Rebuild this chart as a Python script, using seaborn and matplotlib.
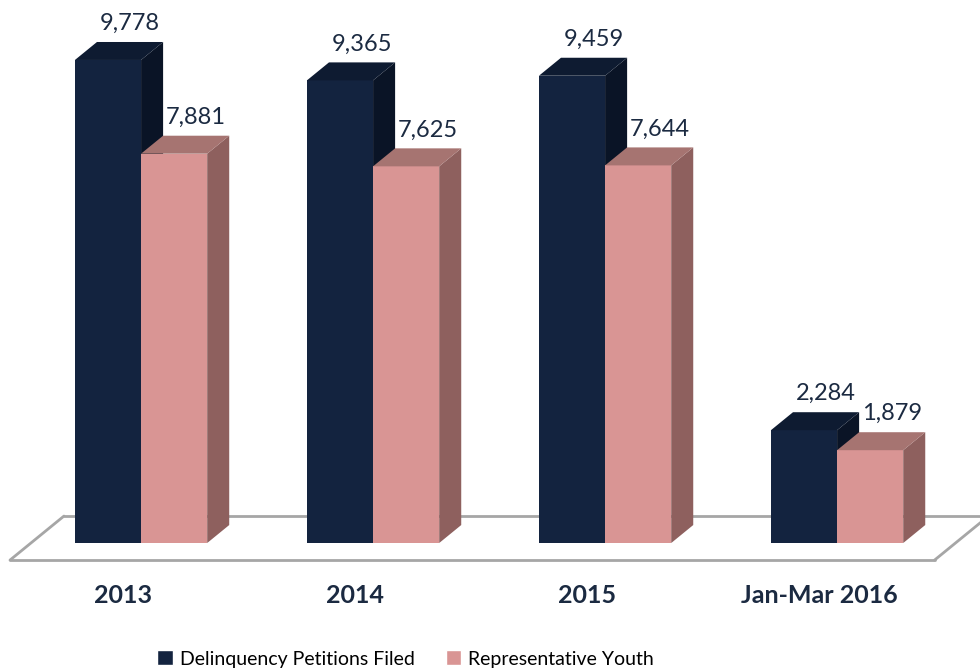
import numpy as np
import pandas as pd
import matplotlib
matplotlib.use('Agg')
import matplotlib.pyplot as plt
from matplotlib.patches import Polygon
import seaborn as sns

# data
categories = ['2013', '2014', '2015', 'Jan-Mar 2016']
series = ['Delinquency Petitions Filed', 'Representative Youth']
petitions = [9778, 9365, 9459, 2284]
youth = [7881, 7625, 7644, 1879]

# colours: front face, top face, side face
front = ['#13233F', '#D99594']
top = ['#0E1B31', '#A67471']
side = ['#0A1426', '#8E605E']
txt_col = '#1B2A41'

df = pd.DataFrame({'year': categories * 2,
                   'series': [series[0]] * len(categories) + [series[1]] * len(categories),
                   'value': petitions + youth})

sns.set_style('white')
plt.rcParams['font.family'] = ['Lato', 'DejaVu Sans']

fig = plt.figure(figsize=(9.8, 6.71), dpi=100)
ax = fig.add_axes([0, 0.1654, 1, 0.8346])

sns.barplot(data=df, x='year', y='value', hue='series', palette=front,
            saturation=1, width=0.57, ax=ax)

ax.set_xlim(-0.608, 3.616)
ax.set_ylim(-344, 10992)

# fake 3d depth (data units)
dx, dy = 0.095, 364

bars = sorted([p for p in ax.patches if p.get_height() > 0], key=lambda p: p.get_x())
for k, b in enumerate(bars):
    s = k % 2
    x0, w, h = b.get_x(), b.get_width(), b.get_height()
    x1 = x0 + w
    z = 3 + k * 0.1
    b.set_zorder(z)
    b.set_edgecolor('none')
    ax.add_patch(Polygon([(x1, 0), (x1 + dx, dy), (x1 + dx, h + dy), (x1, h)],
                         closed=True, fc=side[s], ec='none', zorder=z))
    ax.add_patch(Polygon([(x0, h), (x0 + dx, h + dy), (x1 + dx, h + dy), (x1, h)],
                         closed=True, fc=top[s], ec='none', zorder=z))
    ax.text(x0 + w / 2 + dx * 1.0, h + dy + 160, f'{h:,.0f}', ha='center', va='bottom',
            fontsize=17, color=txt_col, zorder=10)

# floor
fl_x = (-0.565, 3.42)
fy0, fy1 = -0.95 * dy, 1.5 * dy
fdx = 2.45 * dx
fl_kw = dict(color='#A6A6A6', lw=2, clip_on=False)
ax.plot([fl_x[0] + fdx, fl_x[1] + fdx], [fy1, fy1], zorder=1, **fl_kw)
ax.plot([fl_x[0], fl_x[0] + fdx], [fy0, fy1], zorder=1, **fl_kw)
ax.plot([fl_x[1], fl_x[1] + fdx], [fy0, fy1], zorder=1, **fl_kw)
ax.plot([fl_x[0], fl_x[1]], [fy0, fy0], zorder=1, **fl_kw)

# axes cosmetics
sns.despine(ax=ax, left=True, bottom=True)
ax.set_yticks([])
ax.set_xlabel('')
ax.set_ylabel('')
ax.set_xticks(np.arange(len(categories)) - 0.078)
ax.set_xticklabels(categories, fontsize=18, fontweight='bold', color=txt_col)
ax.tick_params(axis='x', length=0, pad=17)

# legend below
handles, labels = ax.get_legend_handles_labels()
ax.get_legend().remove()
fig.legend(handles, labels, loc='center', bbox_to_anchor=(0.414, 1 - 659 / 671), ncol=2,
           frameon=False, fontsize=14, handlelength=0.8, handleheight=0.8,
           handletextpad=0.35, columnspacing=1.6, labelcolor='black')

fig.savefig('out.png', dpi=100)
